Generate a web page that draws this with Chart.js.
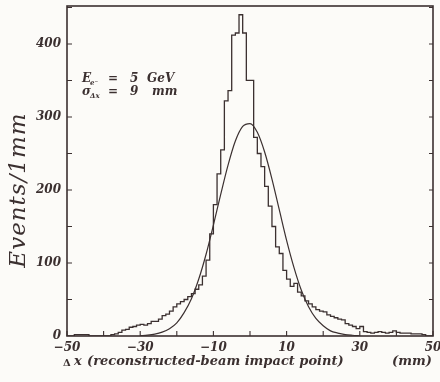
<!DOCTYPE html>
<html>
<head>
<meta charset="utf-8">
<script src="https://cdn.jsdelivr.net/npm/chart.js@4"></script>
<style>
  html, body { margin: 0; padding: 0; background: #fcfbf8; }
</style>
</head>
<body>
<canvas id="chart" width="440" height="382"></canvas>
<script>
// histogram: 1 mm bins starting at -50 mm
const binStart = -50;
const counts = [
  0, 0, 0, 2, 2, 2, 2, 0, 0, 0,            // -50 .. -41
  0, 0, 0, 2, 3, 5, 8, 9, 12, 13,          // -40 .. -31
  15, 16, 15, 17, 20, 20, 23, 28, 30, 34,  // -30 .. -21
  40, 44, 47, 50, 54, 58, 64, 70, 82, 104, // -20 .. -11
  140, 180, 222, 255, 322, 336, 412, 415, 440, 415, // -10 .. -1
  350, 350, 272, 250, 232, 205, 178, 150, 122, 113, // 0 .. 9
  90, 78, 68, 72, 60, 55, 48, 44, 40, 36,  // 10 .. 19
  34, 33, 29, 27, 25, 23, 22, 17, 15, 13,  // 20 .. 29
  10, 13, 6, 5, 4, 5, 6, 5, 4, 5,          // 30 .. 39
  7, 5, 4, 4, 4, 3, 3, 3, 2, 0             // 40 .. 49
];

// fitted curve
const fitX = [-30, -28, -26, -24, -22, -20, -18, -16, -14, -12, -10, -8, -6, -4, -2, 0,
  2, 4, 6, 8, 10, 12, 14, 16, 18, 20, 22, 24, 26, 28, 30];
const fitY = [0.5, 1.2, 2.6, 5.3, 10, 18, 32, 51, 78, 112, 152, 194, 234, 267, 287, 291,
  279, 252, 215, 173, 131, 94, 63, 40, 24, 14, 7, 4, 2, 1, 0.3];

const xTickValues = [-50, -40, -30, -20, -10, 0, 10, 20, 30, 40, 50];
const xLabels = [-50, -30, -10, 10, 30, 50];
const yTickValues = [0, 50, 100, 150, 200, 250, 300, 350, 400, 450];
const yLabels = [0, 100, 200, 300, 400];

const ink = "#3b3030";
const serif = "'DejaVu Serif', serif";

const histPoints = counts.map((v, i) => ({ x: binStart + i, y: v }));
histPoints.push({ x: binStart + counts.length, y: counts[counts.length - 1] });
const fitPoints = fitX.map((x, i) => ({ x: x, y: fitY[i] }));

const frame = {
  id: "frame",
  beforeDraw(chart) {
    const ctx = chart.ctx;
    ctx.save();
    ctx.fillStyle = "#fcfbf8";
    ctx.fillRect(0, 0, chart.width, chart.height);
    ctx.restore();
  },
  afterDraw(chart) {
    const { ctx, chartArea: a, scales } = chart;
    ctx.save();
    ctx.strokeStyle = ink;
    ctx.lineWidth = 1.6;
    ctx.strokeRect(a.left, a.top, a.right - a.left, a.bottom - a.top);

    // inward tick marks
    ctx.lineWidth = 1.1;
    ctx.beginPath();
    scales.x.ticks.forEach(t => {
      const px = scales.x.getPixelForValue(t.value);
      ctx.moveTo(px, a.bottom);
      ctx.lineTo(px, a.bottom - 5);
    });
    scales.y.ticks.forEach(t => {
      if (t.value === 0) return;
      const py = scales.y.getPixelForValue(t.value);
      ctx.moveTo(a.left, py);
      ctx.lineTo(a.left + 5, py);
      ctx.moveTo(a.right, py);
      ctx.lineTo(a.right - 4, py);
    });
    ctx.stroke();

    ctx.fillStyle = ink;
    ctx.textBaseline = "alphabetic";
    ctx.textAlign = "left";

    // annotation
    const big = "bold italic 12px " + serif;
    const small = "bold italic 7px " + serif;
    ctx.font = big;
    ctx.fillText("E", 82, 82);
    ctx.font = small;
    ctx.fillText("e\u207B", 90, 85);
    ctx.font = big;
    ctx.fillText("=", 108, 82);
    ctx.fillText("5", 130, 82);
    ctx.fillText("GeV", 147, 82);

    ctx.fillText("\u03C3", 82, 95);
    ctx.font = small;
    ctx.fillText("\u0394x", 90, 98);
    ctx.font = big;
    ctx.fillText("=", 108, 95);
    ctx.fillText("9", 130, 95);
    ctx.fillText("mm", 152, 95);

    // x title
    ctx.textBaseline = "middle";
    ctx.font = "bold 10px " + serif;
    ctx.fillText("\u0394", 63, 363);
    ctx.font = "bold italic 13px " + serif;
    ctx.fillText("x", 74, 362);
    ctx.fillText("(reconstructed-beam impact point)", 87, 362);
    ctx.fillText("(mm)", 392, 362);

    // y title
    ctx.translate(19, 190);
    ctx.rotate(-Math.PI / 2);
    ctx.textAlign = "center";
    ctx.font = "italic 23px " + serif;
    ctx.letterSpacing = "1px";
    ctx.fillText("Events/1mm", 0, 0);
    ctx.restore();
  }
};

const tickFont = { family: "DejaVu Serif", size: 12, style: "italic", weight: "bold" };

new Chart(document.getElementById("chart"), {
  type: "line",
  data: {
    datasets: [
      {
        label: "Data",
        data: histPoints,
        stepped: "after",
        borderColor: ink,
        borderWidth: 1.3,
        pointRadius: 0,
        fill: false
      },
      {
        label: "Fit",
        data: fitPoints,
        borderColor: ink,
        borderWidth: 1.2,
        pointRadius: 0,
        tension: 0.4,
        cubicInterpolationMode: "monotone",
        fill: false
      }
    ]
  },
  options: {
    responsive: false,
    animation: false,
    layout: { padding: { top: 6, right: 7, left: 0, bottom: 0 } },
    plugins: {
      legend: { display: false },
      tooltip: { enabled: false }
    },
    scales: {
      x: {
        type: "linear",
        min: -50,
        max: 50,
        afterBuildTicks: s => { s.ticks = xTickValues.map(v => ({ value: v })); },
        afterFit: s => { s.height = 46; s.paddingLeft = 0; s.paddingRight = 0; },
        grid: { display: false, drawTicks: false },
        border: { display: false },
        ticks: {
          padding: 5,
          color: ink,
          maxRotation: 0,
          autoSkip: false,
          font: tickFont,
          callback: v => xLabels.includes(v) ? String(v).replace("-", "\u2212") : ""
        }
      },
      y: {
        min: 0,
        max: 452,
        afterBuildTicks: s => { s.ticks = yTickValues.map(v => ({ value: v })); },
        afterFit: s => { s.width = 67; s.paddingTop = 0; s.paddingBottom = 0; },
        grid: { display: false, drawTicks: false },
        border: { display: false },
        ticks: {
          padding: 6,
          color: ink,
          autoSkip: false,
          font: tickFont,
          callback: v => yLabels.includes(v) ? String(v) : ""
        }
      }
    }
  },
  plugins: [frame]
});
</script>
</body>
</html>
